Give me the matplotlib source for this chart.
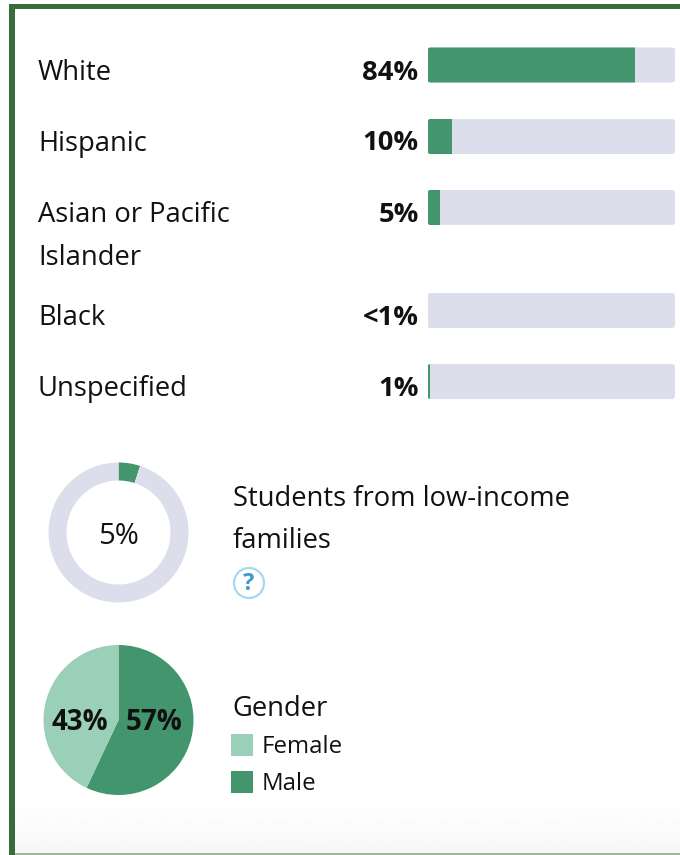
import numpy as np
import matplotlib
matplotlib.use('Agg')
import matplotlib.pyplot as plt
from matplotlib.patches import FancyBboxPatch, Rectangle, Circle

# Values
groups = ['White', 'Hispanic', 'Asian or Pacific\nIslander', 'Black', 'Unspecified']
shares = [84, 10, 5, 0, 1]
share_labels = ['84%', '10%', '5%', '<1%', '1%']
low_income = [5, 95]
low_income_label = '5%'
low_income_title = 'Students from low-income\nfamilies'
gender_names = ['Male', 'Female']
gender_values = [57, 43]
gender_labels = ['57%', '43%']

GREEN = '#42956d'
LIGHT_GREEN = '#9ad0b8'
TRACK = '#dcdeeb'
BORDER = '#3a6b3a'
W, H = 680, 855

plt.rcParams['font.family'] = ['Open Sans', 'DejaVu Sans']
fig = plt.figure(figsize=(W / 100, H / 100), dpi=100)


def px_axes(x0, y0, x1, y1, **kw):
    # axes from pixel box, y counted from the top of the image
    return fig.add_axes([x0 / W, 1 - y1 / H, (x1 - x0) / W, (y1 - y0) / H], **kw)


# page background and frame, below everything else
page = px_axes(0, 0, W, H)
page.set_zorder(-1)
page.axis('off')
grad = np.linspace(1, 0.968, 50).reshape(-1, 1)
page.imshow(grad, extent=(15, W, 853, 803), cmap='gray', vmin=0, vmax=1, aspect='auto')
page.set_xlim(0, W)
page.set_ylim(H, 0)
page.add_patch(Rectangle((9, 4), W - 9, 5.5, color=BORDER, lw=0))
page.add_patch(Rectangle((9, 4), 6, H - 4, color=BORDER, lw=0))
page.add_patch(Rectangle((15, 853), W - 15, 1.5, color='#9db89d', lw=0))

# text layer in pixel coordinates
bg = px_axes(0, 0, W, H)
bg.set_xlim(0, W)
bg.set_ylim(H, 0)
bg.axis('off')
bg.set_zorder(3)

# bars share one axes, x is percent and y is pixels
bar_y = [65, 136.5, 207.5, 310.5, 381.5]
bar_h = 36
bars = px_axes(427.5, 0, 675, H)
bars.set_xlim(0, 100)
bars.set_ylim(H, 0)
bars.axis('off')
for y, share in zip(bar_y, shares):
    track = FancyBboxPatch((0, y - bar_h / 2 + 0.5), 100, bar_h - 1,
                           boxstyle='round,pad=0,rounding_size=1.3',
                           mutation_aspect=2.5, fc=TRACK, ec='none')
    bars.add_patch(track)
    b = bars.barh(y, share, height=bar_h, color=GREEN)
    b[0].set_clip_path(track)

text_size = 19.7
label_y = [72.5, 143.5, 214.5, 317.5, 388.5]
for y, g, lab in zip(label_y, groups, share_labels):
    for i, part in enumerate(g.split('\n')):
        bg.text(38, y + i * 43, part, fontsize=text_size, va='center', color='#111111')
    bg.text(418.5, y, lab, fontsize=text_size, fontweight='bold', va='center', ha='right', color='#111111')

# low income donut
ax = px_axes(46.5, 460.5, 190.5, 604.5)
ax.pie(low_income, colors=[GREEN, TRACK], startangle=90, counterclock=False, radius=1,
       wedgeprops=dict(width=18 / 70))
ax.set_xlim(-72 / 70, 72 / 70)
ax.set_ylim(-72 / 70, 72 / 70)
bg.text(118, 536.5, low_income_label, fontsize=21, ha='center', va='center', color='#111111')
for i, part in enumerate(low_income_title.split('\n')):
    bg.text(233, 498.5 + i * 42, part, fontsize=text_size, va='center', color='#111111')

# help icon
bg.add_patch(Circle((249, 583), 15, fc='white', ec='#a8d8ee', lw=1.6))
bg.text(249, 584, '?', fontsize=17, fontweight='bold', color='#3f97d3', ha='center', va='center')

# gender pie
ax2 = px_axes(41.5, 643, 195.5, 797)
ax2.pie(gender_values, colors=[GREEN, LIGHT_GREEN], startangle=90, counterclock=False, radius=1)
ax2.set_xlim(-77 / 75, 77 / 75)
ax2.set_ylim(-77 / 75, 77 / 75)
bg.text(154, 722, gender_labels[0], fontsize=20, fontweight='bold', ha='center', va='center', color='#111111')
bg.text(80, 722, gender_labels[1], fontsize=20, fontweight='bold', ha='center', va='center', color='#111111')

# legend
bg.text(232, 708.5, 'Gender', fontsize=text_size, va='center', color='#111111')
legend_y = [782, 745]
for y, name, col in zip(legend_y, gender_names, [GREEN, LIGHT_GREEN]):
    bg.add_patch(Rectangle((231, y - 11), 22, 22, color=col, lw=0))
    bg.text(262, y + 2, name, fontsize=17.3, va='center', color='#111111')

fig.savefig('out.png', dpi=100)
